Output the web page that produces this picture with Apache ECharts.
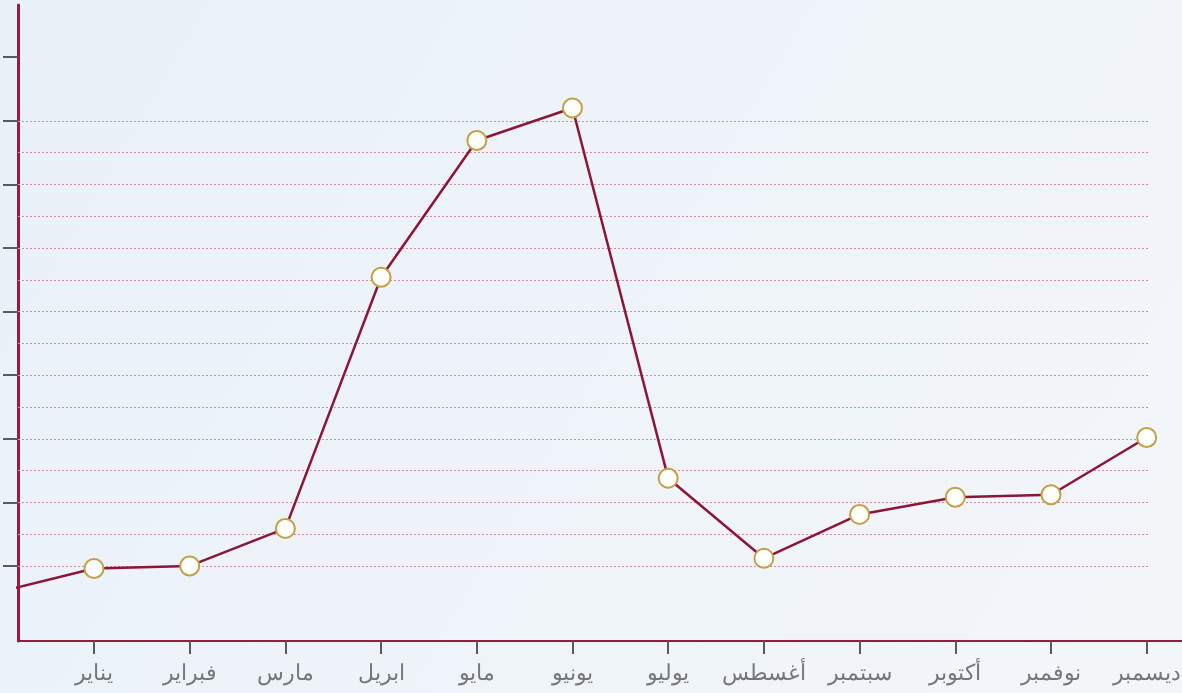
<!DOCTYPE html>
<html>
<head>
<meta charset="utf-8">
<script src="https://cdn.jsdelivr.net/npm/echarts@6/dist/echarts.min.js"></script>
<style>
  html, body { margin: 0; padding: 0; }
  #main { width: 1182px; height: 693px; }
</style>
</head>
<body>
<div id="main"></div>
<script>
    // month names (Arabic), position 1..12 on x
    var months = ['يناير', 'فبراير', 'مارس', 'ابريل', 'مايو', 'يونيو', 'يوليو', 'أغسطس', 'سبتمبر', 'أكتوبر', 'نوفمبر', 'ديسمبر'];
    var monthPos = [1, 2, 3, 4, 5, 6, 7, 8, 9, 10, 11, 12];
    // point 0 lies before January, only its segment shows
    var xValues = [0, 1, 2, 3, 4, 5, 6, 7, 8, 9, 10, 11, 12];
    var yValues = [5.9, 9.6, 10.0, 15.9, 55.4, 76.9, 82.0, 23.8, 11.2, 18.1, 20.8, 21.2, 30.2];
    var yTicks = [10, 20, 30, 40, 50, 60, 70, 80, 90];
    var gridValues = [10, 15, 20, 25, 30, 35, 40, 45, 50, 55, 60, 65, 70, 75, 80];

    var chart = echarts.init(document.getElementById('main'));

    var points = xValues.map(function (x, i) { return [x, yValues[i]]; });
    var gridLines = gridValues.map(function (v) {
        return [{ coord: [0.206, v] }, { coord: [12.02, v] }];
    });

    var option = {
        backgroundColor: {
            type: 'linear', x: 0, y: 0, x2: 1, y2: 1,
            colorStops: [
                { offset: 0, color: '#e9f1f9' },
                { offset: 1, color: '#f3f6f9' }
            ]
        },
        animation: false,
        grid: {
            left: 18,
            right: 0,
            top: 5,
            bottom: 52,
            containLabel: false,
            outerBoundsMode: 'none'
        },
        xAxis: {
            type: 'value',
            min: 0.206,
            max: 12.369,
            splitLine: { show: false },
            axisLine: { onZero: false, lineStyle: { color: '#9a1b40', width: 2 } },
            axisTick: {
                customValues: monthPos,
                length: 13,
                lineStyle: { color: '#5a5a5a', width: 2 }
            },
            axisLabel: {
                customValues: monthPos,
                margin: 22,
                color: '#777777',
                fontSize: 22,
                fontFamily: 'DejaVu Sans',
                fontWeight: 300,
                hideOverlap: false,
                formatter: function (v) { return months[Math.round(v) - 1]; }
            }
        },
        yAxis: {
            type: 'value',
            min: -1.8,
            max: 98.2,
            splitLine: { show: false },
            axisLine: { show: true, onZero: false, lineStyle: { color: '#9a1b40', width: 3 } },
            axisTick: {
                show: true,
                customValues: yTicks,
                length: 15,
                lineStyle: { color: '#5a5a5a', width: 2 }
            },
            axisLabel: { show: false }
        },
        series: [
            {
                type: 'line',
                data: points,
                clip: true,
                symbol: 'circle',
                symbolSize: 19,
                showAllSymbol: true,
                lineStyle: { color: '#8c1538', width: 2.5 },
                itemStyle: { color: '#ffffff', borderColor: '#c4a040', borderWidth: 2 },
                markLine: {
                    silent: true,
                    symbol: 'none',
                    label: { show: false },
                    z: 1,
                    lineStyle: { color: '#d68aa2', width: 1, type: [2, 2] },
                    data: gridLines
                }
            }
        ]
    };

    chart.setOption(option);
</script>
</body>
</html>
